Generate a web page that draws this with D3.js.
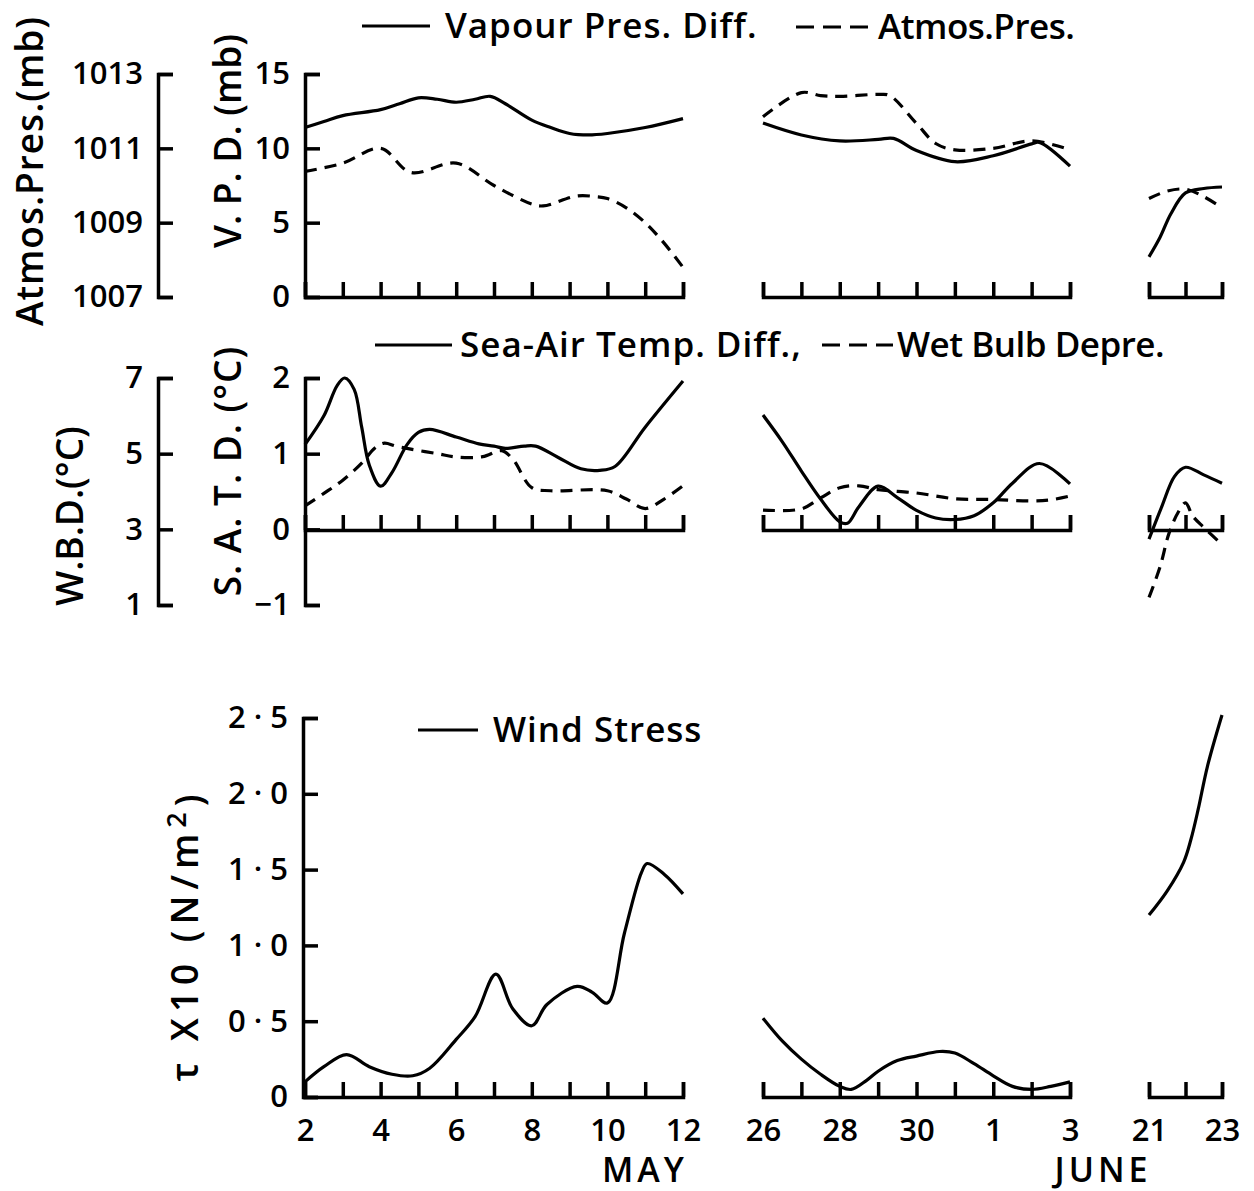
<!DOCTYPE html>
<html>
<head>
<meta charset="utf-8">
<script src="https://cdn.jsdelivr.net/npm/d3@7"></script>
<style>
  body { margin: 0; background: #fff; }
  svg text { font-family: "Open Sans", sans-serif; font-weight: 600; fill: #000; }
</style>
</head>
<body>
<svg id="chart" width="1254" height="1191"></svg>
<script>
// days are counted from 1 May, so 1 June = 32 and 21 June = 52
var vpdSeg1 = [[2,11.4],[2.5,11.8],[3,12.2],[4,12.6],[4.5,13.0],[5,13.4],[5.5,13.3],[6,13.1],[6.5,13.3],[6.9,13.5],[7.3,13.0],[8,11.9],[8.5,11.4],[9,11.0],[9.5,10.9],[10,11.0],[11,11.4],[12,12.0]];
var vpdSeg2 = [[26,11.7],[27,10.9],[28,10.5],[29,10.6],[29.4,10.67],[30,9.85],[31,9.1],[32,9.5],[33,10.3],[33.2,10.4],[34,8.8]];
var vpdSeg3 = [[52,2.7],[52.3,4.0],[52.6,5.6],[53,7.0],[53.5,7.3],[54,7.4]];

var presSeg1 = [[2,1010.38],[3,1010.6],[4,1011.0],[4.8,1010.35],[6,1010.6],[7,1010.0],[8,1009.5],[8.3,1009.45],[9.2,1009.72],[9.7,1009.7],[10,1009.65],[10.5,1009.4],[11,1009.0],[11.5,1008.45],[12,1007.8]];
var presSeg2 = [[26,1011.85],[27,1012.5],[27.5,1012.42],[28,1012.4],[29,1012.45],[29.3,1012.42],[30,1011.67],[30.5,1011.13],[31,1010.96],[32,1011.0],[33,1011.2],[34,1010.96]];
var presSeg3 = [[52,1009.65],[52.5,1009.85],[53,1009.9],[53.5,1009.7],[54,1009.4]];

var satdSeg1 = [[2,1.12],[2.5,1.5],[2.85,1.9],[3.05,2.0],[3.3,1.85],[3.5,1.35],[3.7,0.85],[4.0,0.57],[4.3,0.75],[4.7,1.12],[5.0,1.28],[5.3,1.32],[6,1.22],[6.6,1.13],[7,1.1],[7.3,1.07],[7.8,1.1],[8.1,1.1],[8.7,0.95],[9.3,0.8],[9.8,0.78],[10.2,0.83],[11,1.35],[12,1.96]];
var satdSeg2 = [[26,1.51],[26.5,1.16],[27,0.77],[27.5,0.4],[28,0.1],[28.2,0.08],[28.5,0.3],[29,0.57],[29.5,0.42],[30,0.25],[30.5,0.15],[31,0.13],[31.5,0.18],[32,0.35],[32.5,0.61],[33.2,0.87],[34,0.6]];
var satdSeg3 = [[52,-0.13],[52.35,0.3],[52.7,0.7],[53,0.82],[53.5,0.72],[54,0.61]];

var wbdSeg1 = [[2,3.62],[2.5,3.95],[3,4.3],[3.5,4.75],[3.85,5.15],[4.1,5.28],[4.4,5.2],[4.8,5.12],[5.5,5.0],[6,4.91],[6.7,4.92],[7.2,5.08],[7.5,4.85],[8,4.1],[8.5,4.02],[10,4.02],[10.5,3.8],[11,3.55],[11.5,3.8],[12,4.15]];
var wbdSeg2 = [[26,3.51],[27,3.54],[27.5,3.83],[28,4.1],[28.5,4.15],[29,4.05],[30,3.96],[31,3.81],[32,3.79],[33,3.75],[33.5,3.78],[34,3.88]];
var wbdSeg3 = [[52,1.2],[52.3,2.0],[52.55,2.9],[52.8,3.45],[53,3.7],[53.2,3.35],[53.5,3.05],[54,2.6]];

var tauSeg1 = [[2,0.1],[2.5,0.2],[3.1,0.28],[3.7,0.2],[4.3,0.15],[4.85,0.14],[5.3,0.19],[6,0.38],[6.5,0.53],[7.05,0.81],[7.5,0.58],[8,0.47],[8.4,0.61],[9.2,0.73],[9.6,0.69],[10,0.62],[10.45,1.08],[10.9,1.48],[11.05,1.54],[11.5,1.47],[12,1.34]];
var tauSeg2 = [[26,0.52],[26.5,0.37],[27,0.25],[27.5,0.15],[28,0.07],[28.3,0.05],[28.7,0.11],[29,0.17],[29.5,0.24],[30,0.27],[30.6,0.3],[31,0.29],[31.5,0.22],[32,0.14],[32.5,0.07],[33,0.05],[33.5,0.07],[34,0.1]];
var tauSeg3 = [[52,1.2],[52.5,1.36],[52.95,1.55],[53.15,1.7],[53.35,1.9],[53.6,2.18],[54,2.52]];

var presTicks = [1007,1009,1011,1013];
var vpdTicks = [0,5,10,15];
var wbdTicks = [1,3,5,7];
var satdTicks = [-1,0,1,2];
var tauTicks = [0,0.5,1,1.5,2,2.5];
var dayTicks = [2,4,6,8,10,12,26,28,30,32,34,52,54];
var dayLabels = ["2","4","6","8","10","12","26","28","30","1","3","21","23"];

var svg = d3.select("#chart");

// three broken pieces of the time axis
var segments = [
  {lo: 2, hi: 12, x0: 305, x1: 683},
  {lo: 26, hi: 34, x0: 763, x1: 1070},
  {lo: 52, hi: 54, x0: 1149, x1: 1222}
];
var xs = segments.map(function(s){ return d3.scaleLinear().domain([s.lo, s.hi]).range([s.x0, s.x1]); });

var vpdY = d3.scaleLinear().domain([0,15]).range([297,74]);
var presY = d3.scaleLinear().domain([1007,1013]).range([297,74]);
var satdY = d3.scaleLinear().domain([-1,2]).range([605,378]);
var wbdY = d3.scaleLinear().domain([1,7]).range([605,378]);
var tauY = d3.scaleLinear().domain([0,2.5]).range([1097,718]);

function styleAxis(g){
  g.attr("font-size", null).attr("font-family", null);
  g.selectAll("path, line").attr("stroke", "#000").attr("stroke-width", 3.5);
  g.selectAll("text").style("font-size", "31px");
}

function yAxis(scale, x, values, fmt){
  svg.append("g")
    .attr("transform", "translate(" + x + ",0)")
    .call(d3.axisLeft(scale).tickValues(values).tickFormat(fmt)
      .tickSizeInner(-15).tickSizeOuter(-15).tickPadding(15))
    .call(styleAxis);
}

function xAxis(i, y, labelled){
  var s = segments[i];
  svg.append("g")
    .attr("transform", "translate(0," + y + ")")
    .call(d3.axisBottom(xs[i]).tickValues(d3.range(s.lo, s.hi + 1))
      .tickSizeInner(-15).tickSizeOuter(-15).tickPadding(22)
      .tickFormat(function(d){
        var k = dayTicks.indexOf(d);
        return labelled && k >= 0 ? dayLabels[k] : "";
      }))
    .call(styleAxis);
}

function drawSeries(segs, yScale, dashed){
  segs.forEach(function(data, i){
    var line = d3.line()
      .x(function(d){ return xs[i](d[0]); })
      .y(function(d){ return yScale(d[1]); })
      .curve(d3.curveCatmullRom.alpha(0.5));
    svg.append("path")
      .attr("d", line(data))
      .attr("fill", "none")
      .attr("stroke", "#000")
      .attr("stroke-width", 3.2)
      .attr("stroke-dasharray", dashed ? "12,8" : null);
  });
}

function legendKey(x1, x2, y, dashed){
  svg.append("line").attr("x1", x1).attr("x2", x2).attr("y1", y).attr("y2", y)
    .attr("stroke", "#000").attr("stroke-width", 3.2)
    .attr("stroke-dasharray", dashed ? "18,9" : null);
}

function legendText(x, y, spacing, label){
  svg.append("text").attr("x", x).attr("y", y).attr("dy", "0.35em")
    .style("font-size", "35px").style("letter-spacing", spacing + "px").text(label);
}

function vTitle(x, y, spacing, label){
  return svg.append("text")
    .attr("transform", "translate(" + x + "," + y + ") rotate(-90)")
    .attr("text-anchor", "middle").attr("dy", "0.35em")
    .style("font-size", "37px").style("letter-spacing", spacing + "px").text(label);
}

// top panel: vapour pressure difference and atmospheric pressure
yAxis(presY, 158, presTicks, d3.format("d"));
yAxis(vpdY, 305, vpdTicks, d3.format("d"));
segments.forEach(function(s, i){ xAxis(i, 297, false); });
drawSeries([vpdSeg1, vpdSeg2, vpdSeg3], vpdY, false);
drawSeries([presSeg1, presSeg2, presSeg3], presY, true);
vTitle(30, 171, 1, "Atmos.Pres.(mb)");
vTitle(228, 141, 0, "V. P. D. (mb)");
legendKey(362, 430, 26, false);
legendText(445, 26, 1, "Vapour Pres. Diff.");
legendKey(796, 870, 27, true);
legendText(878, 27, -0.5, "Atmos.Pres.");

// middle panel: sea-air temperature difference and wet bulb depression
yAxis(wbdY, 158, wbdTicks, d3.format("d"));
yAxis(satdY, 305, satdTicks, d3.format("d"));
segments.forEach(function(s, i){ xAxis(i, 530, false); });
drawSeries([satdSeg1, satdSeg2, satdSeg3], satdY, false);
drawSeries([wbdSeg1, wbdSeg2, wbdSeg3], wbdY, true);
vTitle(70, 516, 0, "W.B.D.(°C)");
vTitle(228, 471, 1, "S. A. T. D. (°C)");
legendKey(375, 452, 345, false);
legendText(460, 345, 1, "Sea-Air Temp. Diff.,");
legendKey(822, 893, 345, true);
legendText(897, 345, -0.5, "Wet Bulb Depre.");

// bottom panel: wind stress
yAxis(tauY, 303, tauTicks, function(d){ return d === 0 ? "0" : d3.format(".1f")(d).replace(".", " · "); });
segments.forEach(function(s, i){ xAxis(i, 1097, true); });
drawSeries([tauSeg1, tauSeg2, tauSeg3], tauY, false);
legendKey(418, 478, 730, false);
legendText(493, 730, 1, "Wind Stress");

var tau = vTitle(185, 935, 6, "τ X10 (N/m");
tau.append("tspan").attr("dy", "-0.45em").style("font-size", "27px").text("2");
tau.append("tspan").attr("dy", "0.45em").text(")");

svg.append("text").attr("x", 645).attr("y", 1170).attr("text-anchor", "middle")
  .attr("dy", "0.35em").style("font-size", "34px").style("letter-spacing", "4px").text("MAY");
svg.append("text").attr("x", 1103).attr("y", 1170).attr("text-anchor", "middle")
  .attr("dy", "0.35em").style("font-size", "34px").style("letter-spacing", "4px").text("JUNE");
</script>
</body>
</html>
